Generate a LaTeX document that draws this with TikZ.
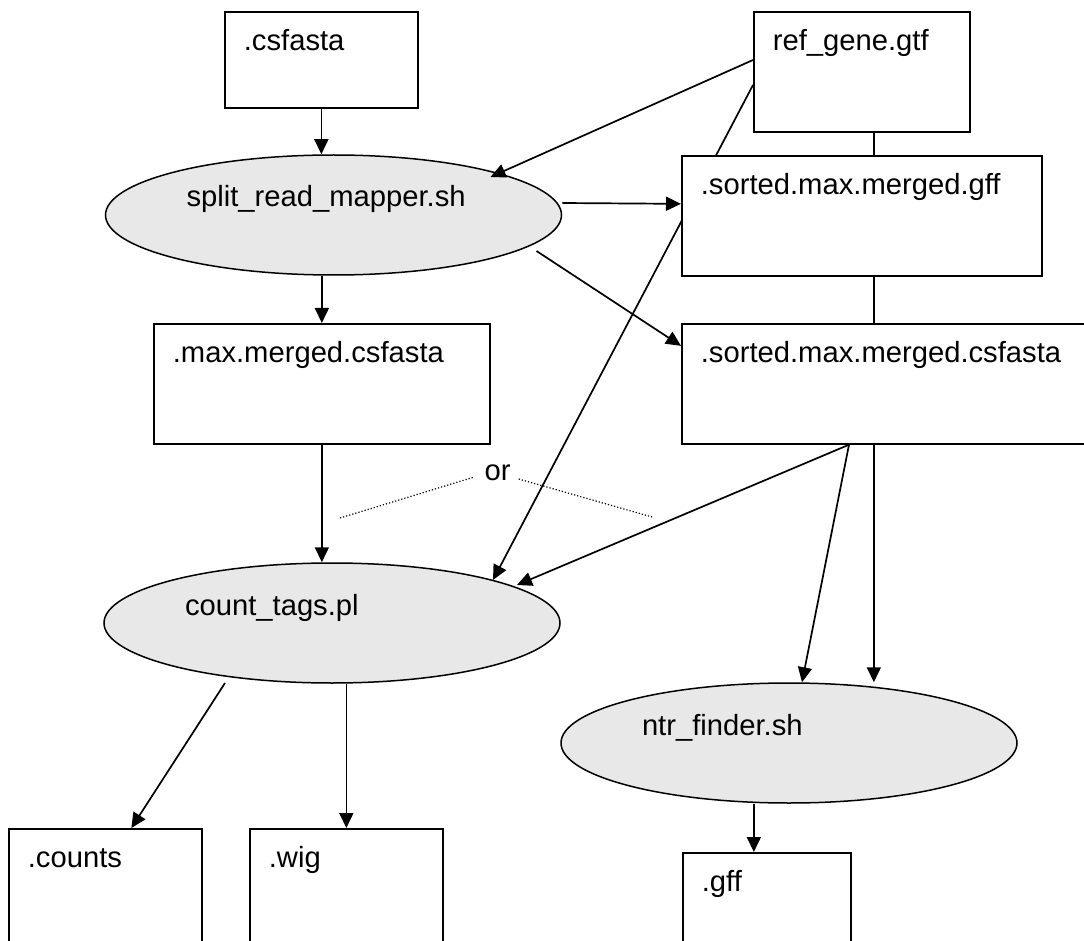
\documentclass[tikz,border=0pt]{standalone}
\usepackage{fontspec}
\setmainfont{Liberation Sans}
\usetikzlibrary{shapes.geometric,arrows.meta,backgrounds}
\definecolor{procfill}{HTML}{E8E8E8}
\begin{document}
\begin{tikzpicture}[x=1pt,y=-1pt,
  every node/.style={font=\fontsize{29.2}{35}\selectfont},
  fbox/.style n args={2}{draw, fill=white, line width=1.7pt, anchor=north west,
    align=left, inner xsep=19pt, inner ysep=0pt, text height=39pt,
    text width=#1, text depth=#2},
  proc/.style={ellipse, draw, fill=procfill, line width=1.5pt,
    minimum width=456pt, minimum height=120pt, inner sep=0pt,
    text width=294pt, align=left, text height=22pt, text depth=38pt},
  arr/.style={line width=1.7pt, -{Triangle[length=15pt,width=14pt]}},
  dotline/.style={line width=1.2pt, dash pattern=on 1.2pt off 2pt}]
\useasboundingbox (0,0) rectangle (1084,941);
\clip (0,0) rectangle (1084,941);

% file boxes
\node[fbox={155pt}{57pt}] (csf) at (224,11) {.csfasta};
\node[fbox={178pt}{81pt}] (ref) at (753,11) {ref\_gene.gtf};
\node[fbox={322pt}{81pt}] (gff) at (681,155) {.sorted.max.merged.gff};
\node[fbox={298pt}{81pt}] (mmc) at (153,323) {.max.merged.csfasta};
\node[fbox={392pt}{81pt}] (smc) at (681,323) {.sorted.max.merged.csfasta};
\node[fbox={155pt}{91pt}] (counts) at (8,828) {.counts};
\node[fbox={155pt}{91pt}] (wig) at (249,828) {.wig};
\node[fbox={130pt}{71pt}] (gffout) at (682,852) {.gff};

% process ellipses
\node[proc] (split) at (333.5,215) {split\_read\_mapper.sh};
\node[proc] (count) at (332,623) {count\_tags.pl};
\node[proc] (ntr) at (789,743) {ntr\_finder.sh};

% "or" label with dotted lines
\node[inner sep=0pt, anchor=base] (or) at (497.5,480) {or};
\coordinate (dl) at (340,518);
\coordinate (dr) at (652,517);
\draw[dotline] (dl) -- ([shift={(-10pt,3pt)}]or.base west);
\draw[dotline] ([shift={(8pt,1pt)}]or.base east) -- (dr);

% connectors passing behind boxes
\begin{pgfonlayer}{background}
\draw[arr] ([yshift=-74pt]ref.north west) -- ([shift={(161pt,43pt)}]count.center);
\draw[arr] ([xshift=12pt]ref.south) -- ([xshift=12pt]ref.south |- ntr.north);
\end{pgfonlayer}

% connectors
\draw[arr] (csf.south) -- (csf.south |- split.north);
\draw[arr] ([yshift=-49pt]ref.north west) -- ([shift={(157pt,38pt)}]split.center);
\draw[arr] ([yshift=12pt]split.east) -- ([yshift=12pt]gff.west);
\draw[arr] ([shift={(203pt,-36pt)}]split.center) -- ([yshift=38pt]smc.west);
\draw[arr] (mmc.north |- split.south) -- (mmc.north);
\draw[arr] (mmc.south) -- (mmc.south |- count.north);
\draw[arr] ([xshift=168pt]smc.south west) -- ([shift={(185pt,38pt)}]count.center);
\draw[arr] ([xshift=168pt]smc.south west) -- ([xshift=13pt]ntr.north);
\draw[arr] ([shift={(-107pt,-60pt)}]count.center) -- ([xshift=26pt]counts.north);
\draw[arr] (wig.north |- count.south) -- (wig.north);
\draw[arr] ([xshift=-13pt]gffout.north |- ntr.south) -- ([xshift=-13pt]gffout.north);
\end{tikzpicture}
\end{document}
